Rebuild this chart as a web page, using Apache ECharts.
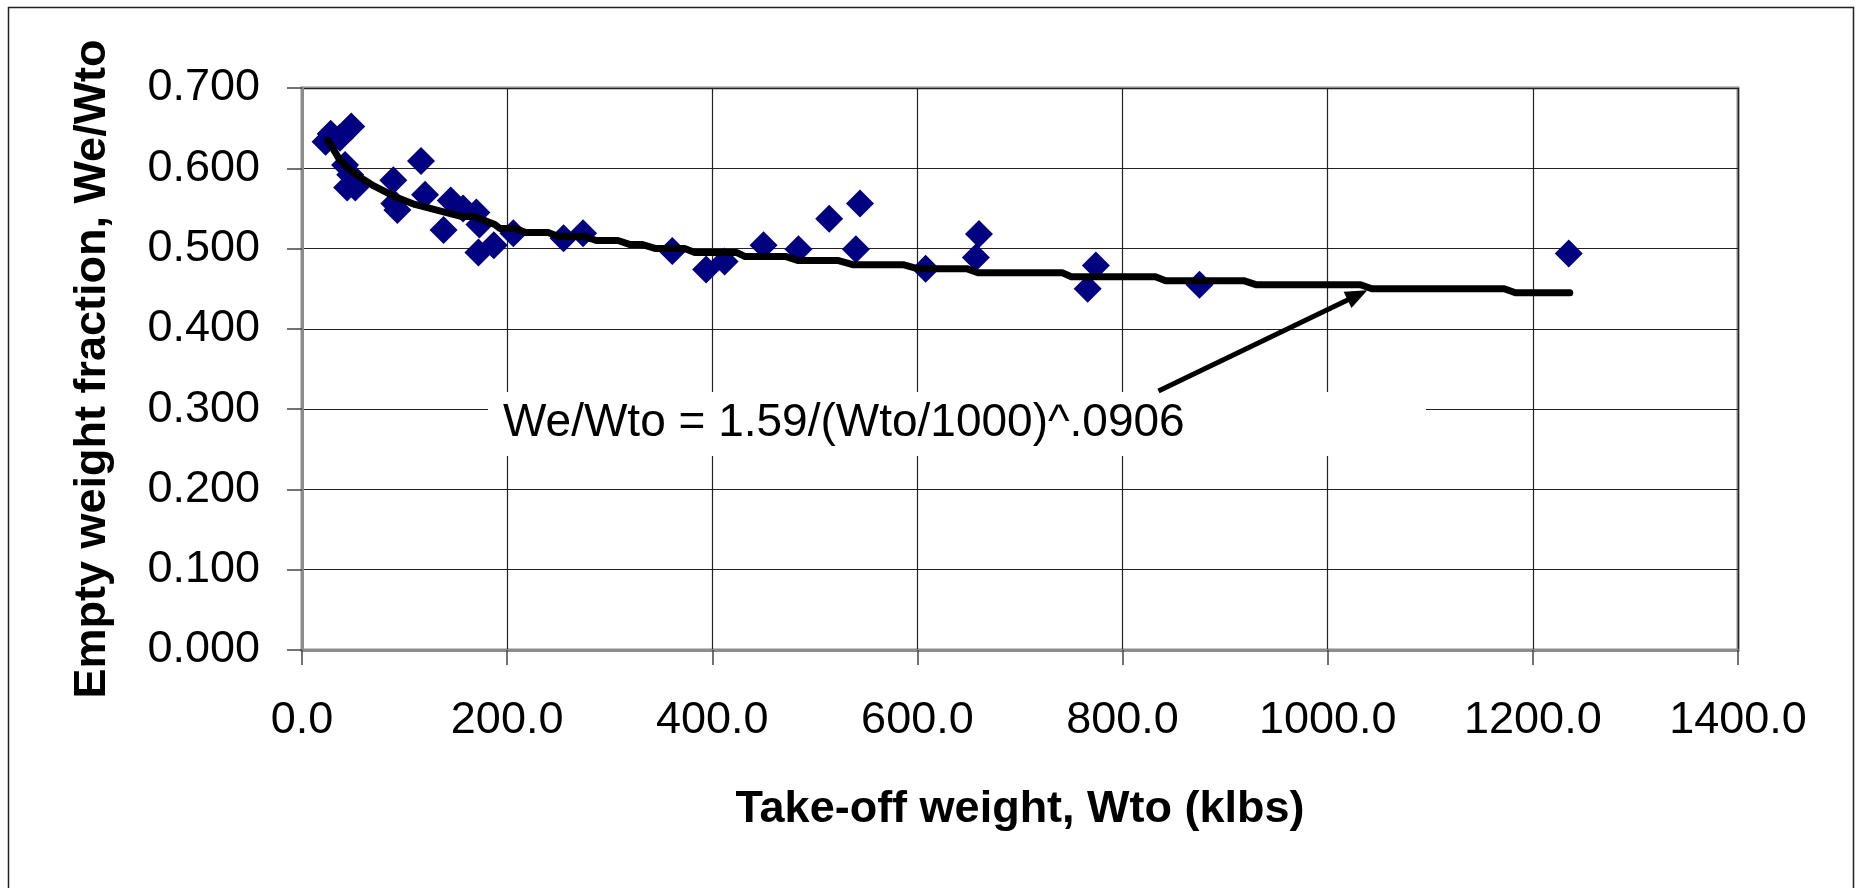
<!DOCTYPE html>
<html>
<head>
<meta charset="utf-8">
<script src="https://cdn.jsdelivr.net/npm/echarts@6/dist/echarts.min.js"></script>
<style>
  html, body { margin: 0; padding: 0; background: #ffffff; }
  #chart { width: 1856px; height: 888px; }
</style>
</head>
<body>
<div id="chart"></div>
<script>
// Aircraft sample: take-off weight (klbs) and empty weight fraction We/Wto
const takeoffWeight = [
  23, 28, 37, 48, 42, 47, 44, 52,
  89, 90, 93,
  116, 120, 138, 145, 157, 170, 173, 172, 187, 206, 255, 274,
  361, 394, 412, 450, 484, 514, 544, 540, 608, 660, 657,
  774, 766, 875, 1235
];
const emptyFraction = [
  0.633, 0.643, 0.638, 0.652, 0.604, 0.592, 0.576, 0.576,
  0.585, 0.556, 0.548,
  0.609, 0.567, 0.523, 0.560, 0.550, 0.545, 0.530, 0.495, 0.504, 0.519, 0.513, 0.519,
  0.497, 0.474, 0.484, 0.504, 0.499, 0.537, 0.556, 0.499, 0.475, 0.518, 0.489,
  0.479, 0.450, 0.455, 0.494
];

// Trend curve We/Wto = 1.59/(Wto/1000)^.0906, tabulated values
const fitWeight = [
  25, 30, 36, 45, 55, 70, 90, 110, 125, 140, 155, 168, 178, 188, 193, 208, 218, 240,
  250, 275, 287, 308, 320, 332, 345, 373, 383, 424, 432, 472, 484, 523, 537, 586,
  600, 648, 659, 741, 750, 832, 842, 918, 930, 1032, 1043, 1172, 1183, 1236
];
const fitFraction = [
  0.635, 0.625, 0.612, 0.600, 0.590, 0.578, 0.565, 0.555, 0.550, 0.545, 0.540, 0.540, 0.535, 0.530, 0.525, 0.525, 0.520, 0.520,
  0.515, 0.515, 0.510, 0.510, 0.505, 0.505, 0.500, 0.500, 0.495, 0.495, 0.490, 0.490, 0.485, 0.485, 0.480, 0.480,
  0.475, 0.475, 0.470, 0.470, 0.465, 0.465, 0.460, 0.460, 0.455, 0.455, 0.450, 0.450, 0.445, 0.445
];

// Axis ticks
const xTickValues = [0, 200, 400, 600, 800, 1000, 1200, 1400];
const xTickLabels = ['0.0', '200.0', '400.0', '600.0', '800.0', '1000.0', '1200.0', '1400.0'];
const yTickValues = [0, 0.1, 0.2, 0.3, 0.4, 0.5, 0.6, 0.7];
const yTickLabels = ['0.000', '0.100', '0.200', '0.300', '0.400', '0.500', '0.600', '0.700'];

// Annotation arrow pointing at the curve, in data coordinates
const arrowFrom = [835, 0.3225];
const arrowTo = [1029, 0.442];
const equationText = 'We/Wto = 1.59/(Wto/1000)^.0906';

const FONT = '"Liberation Sans", Arial, Helvetica, sans-serif';

function tickLabel(values, labels, v) {
  for (let i = 0; i < values.length; i++) {
    if (Math.abs(values[i] - v) < 1e-9) return labels[i];
  }
  return '';
}

const chart = echarts.init(document.getElementById('chart'), null, { renderer: 'canvas' });

const scatterData = takeoffWeight.map((w, i) => [w, emptyFraction[i]]);
const fitData = fitWeight.map((w, i) => [w, fitFraction[i]]);

chart.setOption({
  backgroundColor: '#ffffff',
  animation: false,
  textStyle: { fontFamily: FONT },
  grid: {
    left: 302, top: 88, right: 118, bottom: 238,
    show: true,
    borderColor: '#8c8c8c',
    borderWidth: 3,
    backgroundColor: 'transparent'
  },
  xAxis: {
    type: 'value',
    min: 0, max: 1400, interval: 200,
    name: 'Take-off weight, Wto (klbs)',
    nameLocation: 'middle',
    nameGap: 137,
    nameTextStyle: { fontFamily: FONT, fontSize: 45, fontWeight: 'bold', color: '#000' },
    axisLine: { show: true, onZero: false, lineStyle: { color: '#8c8c8c', width: 3 } },
    axisTick: { show: true, inside: false, length: 15, lineStyle: { color: '#444', width: 1.5 } },
    axisLabel: {
      margin: 48,
      fontFamily: FONT, fontSize: 45, color: '#000',
      formatter: v => tickLabel(xTickValues, xTickLabels, v)
    },
    splitLine: { show: true, lineStyle: { color: '#222', width: 1.2 } }
  },
  yAxis: {
    type: 'value',
    min: 0, max: 0.7, interval: 0.1,
    name: 'Empty weight fraction, We/Wto',
    nameLocation: 'middle',
    nameGap: 187,
    nameRotate: 90,
    nameTextStyle: { fontFamily: FONT, fontSize: 45, fontWeight: 'bold', color: '#000' },
    axisLine: { show: true, lineStyle: { color: '#8c8c8c', width: 3 } },
    axisTick: { show: true, inside: false, length: 15, lineStyle: { color: '#444', width: 1.5 } },
    axisLabel: {
      margin: 42,
      fontFamily: FONT, fontSize: 45, color: '#000',
      formatter: v => tickLabel(yTickValues, yTickLabels, v)
    },
    splitLine: { show: true, lineStyle: { color: '#222', width: 1.2 } }
  },
  series: [
    {
      name: 'Aircraft',
      type: 'scatter',
      data: scatterData,
      symbol: 'diamond',
      symbolSize: [28, 28],
      itemStyle: { color: '#000080', opacity: 1 },
      z: 3
    },
    {
      name: 'Trend',
      type: 'line',
      data: fitData,
      showSymbol: false,
      symbol: 'none',
      smooth: false,
      lineStyle: { color: '#000000', width: 7, cap: 'round', join: 'round' },
      z: 4,
      markLine: {
        silent: true,
        symbol: ['none', 'triangle'],
        symbolSize: [18, 22],
        label: { show: false },
        lineStyle: { color: '#000000', width: 5, type: 'solid' },
        data: [[{ coord: arrowFrom }, { coord: arrowTo }]]
      }
    }
  ],
  graphic: [
    {
      type: 'rect',
      z: 1,
      shape: { x: 8.5, y: 7.5, width: 1845, height: 900 },
      style: { fill: 'none', stroke: '#222', lineWidth: 1.5 },
      silent: true
    },
    {
      type: 'rect',
      z: 1,
      shape: { x: 488, y: 392, width: 938, height: 64 },
      style: { fill: '#ffffff', stroke: 'none' },
      silent: true
    },
    {
      type: 'text',
      z: 2,
      left: 503,
      top: 400,
      style: {
        text: equationText,
        fontFamily: FONT,
        fontSize: 46,
        fill: '#000'
      },
      silent: true
    }
  ]
});
</script>
</body>
</html>
